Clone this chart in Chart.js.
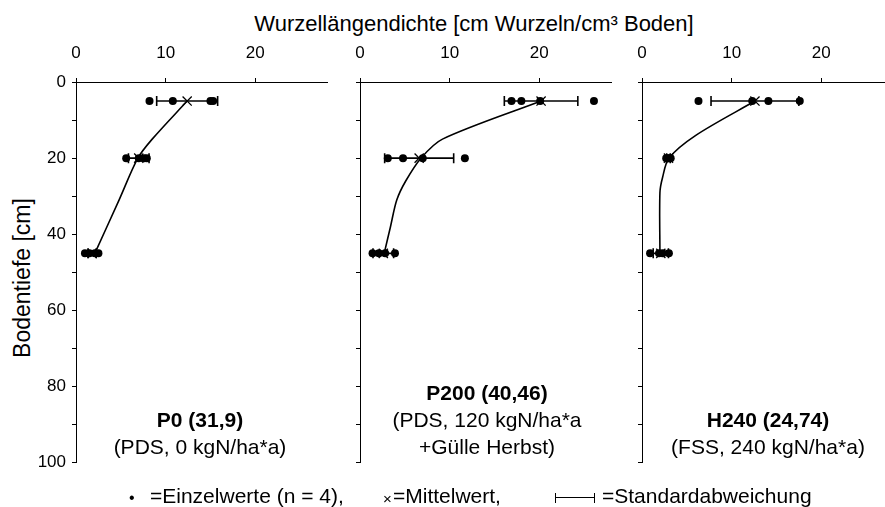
<!DOCTYPE html>
<html lang="de">
<head>
<meta charset="UTF-8">
<title>Wurzellängendichte</title>
<script src="https://cdn.jsdelivr.net/npm/chart.js"></script>
<style>
    body { margin: 0; background: #fff; font-family: "Liberation Sans", Arial, sans-serif; color: #000; }
    #wrap { position: relative; width: 885px; height: 507px; overflow: hidden; }
    canvas { position: absolute; top: 30px; }
    .txt { position: absolute; white-space: nowrap; }
    .lbl { position: absolute; font-size: 21px; line-height: 27px; text-align: center; white-space: nowrap; transform: translateX(-50%); }
    .leg { position: absolute; font-size: 21px; line-height: 21px; white-space: nowrap; top: 485px; }
</style>
</head>
<body>
<div id="wrap">
    <div class="txt" style="left:474px; top:13px; font-size:22px; line-height:22px; transform:translateX(-50%);">Wurzellängendichte [cm Wurzeln/cm³ Boden]</div>
    <div class="txt" style="left:22px; top:278px; font-size:23px; line-height:23px; transform:translate(-50%,-50%) rotate(-90deg);">Bodentiefe [cm]</div>

    <canvas id="c0" width="321" height="449" style="left:16px"></canvas>
    <canvas id="c1" width="321" height="449" style="left:300px"></canvas>
    <canvas id="c2" width="321" height="449" style="left:582px"></canvas>

    <div class="lbl" style="left:200px; top:406px;"><b>P0 (31,9)</b><br>(PDS, 0 kgN/ha*a)</div>
    <div class="lbl" style="left:487px; top:379px;"><b>P200 (40,46)</b><br>(PDS, 120 kgN/ha*a<br>+Gülle Herbst)</div>
    <div class="lbl" style="left:768px; top:406px;"><b>H240 (24,74)</b><br>(FSS, 240 kgN/ha*a)</div>

    <div class="leg" style="left:129px; font-size:16px; top:487px;">•</div>
    <div class="leg" style="left:150px;">=Einzelwerte (n = 4),</div>
    <div class="leg" style="left:383px; font-size:15px; top:488px;">×</div>
    <div class="leg" style="left:393px;">=Mittelwert,</div>
    <div style="position:absolute; left:555px; top:493px; width:38px; height:10px; border-left:1.5px solid #000; border-right:1.5px solid #000;">
        <div style="position:absolute; left:0; right:0; top:4px; border-top:1.5px solid #000;"></div>
    </div>
    <div class="leg" style="left:602px;">=Standardabweichung</div>
</div>

<script>
    // Tiefen der Probenahme (cm)
    const depths = [5, 20, 45];

    // P0
    const p0Values = [[8.2, 10.8, 15.0, 15.3], [5.6, 7.0, 7.6, 7.9], [1.0, 1.5, 2.1, 2.5]];
    const p0Means = [12.4, 7.0, 1.8];
    const p0Sd = [3.4, 1.15, 0.45];
    const p0CurveX = [12.4, 8.5, 6.9, 4.8, 2.1];
    const p0CurveY = [5, 15, 20, 31, 45];

    // P200
    const p200Values = [[16.9, 18.0, 20.1, 26.1], [3.1, 4.8, 7.0, 11.7], [1.4, 2.1, 2.8, 3.9]];
    const p200Means = [20.2, 6.6, 2.6];
    const p200Sd = [4.1, 3.85, 1.15];
    const p200CurveX = [20.2, 9.2, 6.8, 5.1, 4.1, 3.4, 2.7];
    const p200CurveY = [5, 15, 20, 26, 31, 38, 45];

    // H240
    const h240Values = [[6.3, 12.3, 14.1, 17.6], [2.7, 2.9, 3.0, 3.2], [0.9, 1.9, 2.3, 3.0]];
    const h240Means = [12.6, 2.95, 2.1];
    const h240Sd = [4.9, 0.2, 0.85];
    const h240CurveX = [12.6, 6.0, 3.0, 2.3, 2.0, 2.0];
    const h240CurveY = [5, 14, 20, 25, 29, 45];

    const xTicks = [0, 10, 20];
    const yLabels = [0, 20, 40, 60, 80, 100];

    const fontFam = '"Liberation Sans", Arial, sans-serif';

    function makePanel(id, values, means, sd, curveX, curveY, showY) {
        var ds = [];
        ds.push({
            data: curveX.map((x, i) => ({ x: x, y: curveY[i] })),
            showLine: true, borderColor: '#000', borderWidth: 1.6,
            pointRadius: 0, tension: 0.3
        });
        depths.forEach(function (d, i) {
            ds.push({
                data: [{ x: means[i] - sd[i], y: d }, { x: means[i] + sd[i], y: d }],
                showLine: true, borderColor: '#000', borderWidth: 1.6,
                pointStyle: 'line', rotation: 90, pointRadius: 5,
                pointBorderColor: '#000', pointBorderWidth: 1.6
            });
        });
        var pts = [];
        depths.forEach(function (d, i) {
            values[i].forEach(v => pts.push({ x: v, y: d }));
        });
        ds.push({
            data: pts, pointRadius: 4, backgroundColor: '#000', borderColor: '#000', borderWidth: 0
        });
        ds.push({
            data: means.map((m, i) => ({ x: m, y: depths[i] })),
            pointStyle: 'crossRot', pointRadius: 6.5, borderColor: '#000', borderWidth: 1.3
        });

        new Chart(document.getElementById(id), {
            type: 'scatter',
            data: { datasets: ds },
            options: {
                responsive: false,
                animation: false,
                devicePixelRatio: 1,
                layout: { padding: { left: 0, right: 10, top: 0, bottom: 10 } },
                plugins: { legend: { display: false }, tooltip: { enabled: false } },
                scales: {
                    x: {
                        type: 'linear', position: 'top', min: 0, max: 28,
                        afterBuildTicks: s => { s.ticks = xTicks.map(v => ({ value: v })); },
                        afterFit: s => { s.height = 52; },
                        ticks: { color: '#000', padding: 14, font: { family: fontFam, size: 17 } },
                        grid: { drawOnChartArea: false, tickLength: 4, color: '#000', lineWidth: 1 },
                        border: { color: '#000', width: 1 }
                    },
                    y: {
                        type: 'linear', reverse: true, min: 0, max: 100,
                        ticks: {
                            stepSize: 10, color: '#000', padding: 6,
                            font: { family: fontFam, size: 17 },
                            callback: v => (showY && yLabels.includes(v)) ? v : ''
                        },
                        afterFit: s => { s.width = 60; },
                        grid: { drawOnChartArea: false, tickLength: 4, color: '#000', lineWidth: 1 },
                        border: { color: '#000', width: 1 }
                    }
                }
            }
        });
    }

    makePanel('c0', p0Values, p0Means, p0Sd, p0CurveX, p0CurveY, true);
    makePanel('c1', p200Values, p200Means, p200Sd, p200CurveX, p200CurveY, false);
    makePanel('c2', h240Values, h240Means, h240Sd, h240CurveX, h240CurveY, false);
</script>
</body>
</html>
